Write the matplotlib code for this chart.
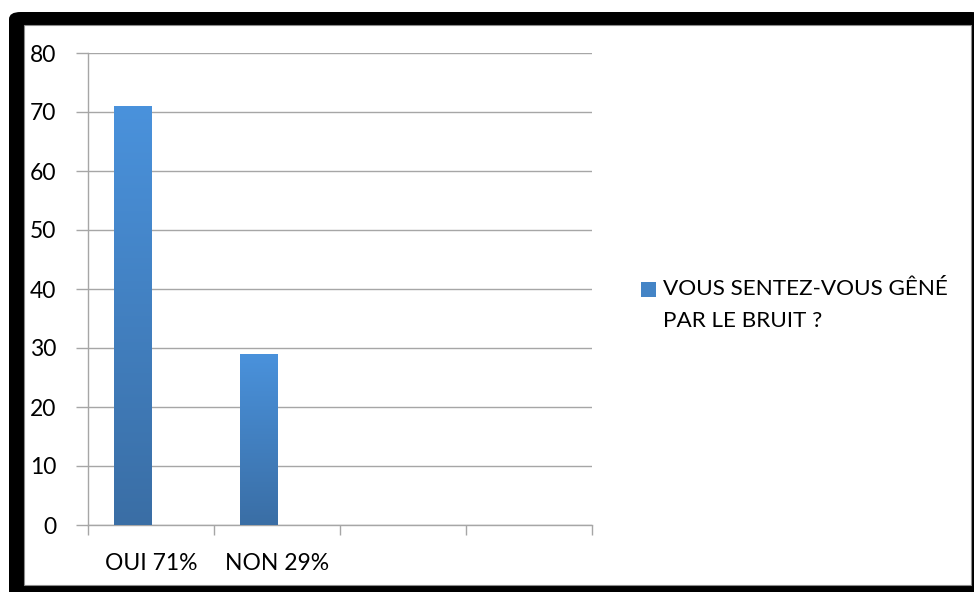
import matplotlib

matplotlib.use("Agg")
import matplotlib.pyplot as plt
import numpy as np
from matplotlib.colors import LinearSegmentedColormap
from matplotlib.patches import FancyBboxPatch, Rectangle

plt.rcParams["font.family"] = ["Lato", "DejaVu Sans"]

categories = ["OUI 71%", "NON 29%", "", ""]
values = [71, 29]
series_label = "VOUS SENTEZ-VOUS GÊNÉ\nPAR LE BRUIT ?"
yticks = [0, 10, 20, 30, 40, 50, 60, 70, 80]

GRID = "#a6a6a6"
TOP_BLUE = "#4a92dc"
BOT_BLUE = "#3a6ea5"
W, H = 974, 592

fig = plt.figure(figsize=(W / 100, H / 100), dpi=100)
fig.patch.set_facecolor("white")

# black frame with white panel, kept under the axes
frame = FancyBboxPatch((9 / W, -0.05), 1.0, 1 - 12 / H + 0.05,
                       boxstyle="round,pad=0,rounding_size=0.012",
                       transform=fig.transFigure, facecolor="black",
                       edgecolor="none", zorder=-2)
fig.patches.append(frame)
panel = Rectangle((24 / W, 7 / H), 947 / W, 560 / H, transform=fig.transFigure,
                  facecolor="white", edgecolor="#8c8c8c", lw=0.8, zorder=-1)
fig.patches.append(panel)

ax = fig.add_axes([88 / W, 1 - 525 / H, (592 - 88) / W, (525 - 53) / H])
ax.set_facecolor("none")
ax.set_zorder(2)

x = np.arange(len(categories))
offset, width = -0.147, 0.294
bars = ax.bar(x[:len(values)] + offset, values, width=width, color="#4280c4",
              zorder=3, label=series_label)

cmap = LinearSegmentedColormap.from_list("bar", [BOT_BLUE, TOP_BLUE])
grad = np.linspace(0, 1, 256).reshape(-1, 1)
for b in bars:
    bx, by, bw, bh = b.get_x(), b.get_y(), b.get_width(), b.get_height()
    im = ax.imshow(grad, cmap=cmap, origin="lower", aspect="auto",
                   extent=(bx, bx + bw, by, by + bh), zorder=3.5)
    im.set_clip_path(b)

ax.set_xlim(-0.5, len(categories) - 0.5)
ax.set_ylim(0, 80)
ax.set_yticks(yticks)
ax.set_yticklabels([str(t) for t in yticks])
ax.set_xticks(x)
ax.set_xticklabels(categories)
ax.set_xticks(np.arange(len(categories) + 1) - 0.5, minor=True)
ax.tick_params(axis="x", which="major", length=0, pad=20, labelsize=16.5)
ax.tick_params(axis="x", which="minor", length=7, color=GRID, width=1)
ax.tick_params(axis="y", length=9, color=GRID, width=1, pad=14, labelsize=16.5)
ax.yaxis.grid(True, color=GRID, lw=1, zorder=0)
ax.set_axisbelow(True)
for s in ("top", "right"):
    ax.spines[s].set_visible(False)
for s in ("left", "bottom"):
    ax.spines[s].set_color(GRID)
    ax.spines[s].set_linewidth(1)

# legend drawn by hand so the key sits beside the first line
key = Rectangle((641 / W, 1 - 297 / H), 15 / W, 15 / H, transform=fig.transFigure,
                facecolor=cmap(0.6), edgecolor="none")
fig.patches.append(key)
fig.text(663 / W, 1 - 279 / H, series_label, fontsize=16.2, va="top", ha="left",
         linespacing=1.75)

fig.savefig("out.png", dpi=100)
